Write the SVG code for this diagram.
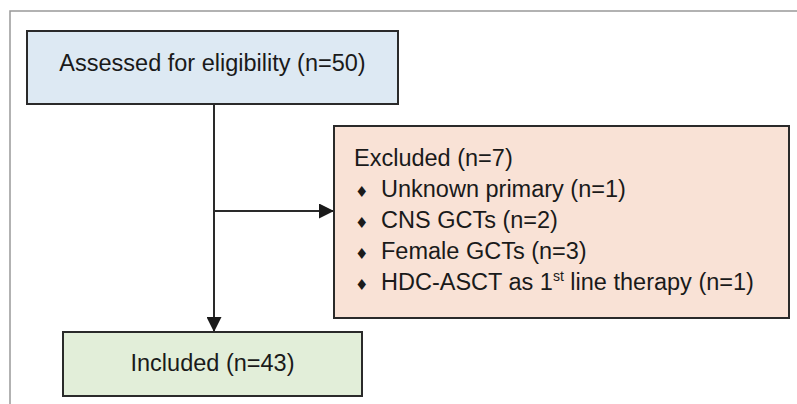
<svg xmlns="http://www.w3.org/2000/svg" width="797" height="404" viewBox="0 0 797 404">
<style>
.box{stroke:#2a2a2a;stroke-width:2}
.t{font-family:"Liberation Sans",Arial,sans-serif;fill:#1a1a1a;font-size:23.5px}
.b{font-family:"DejaVu Sans",sans-serif;font-size:15px;fill:#1a1a1a}
.ln{stroke:#2a2a2a;stroke-width:2;fill:none}
</style>
<defs>
<marker id="ah" markerWidth="15" markerHeight="15" refX="15" refY="7.5" orient="auto" markerUnits="userSpaceOnUse">
<path d="M0,0 L15,7.5 L0,15 Z" fill="#1a1a1a"/>
</marker>
</defs>
<rect width="797" height="404" fill="#ffffff"/>
<path d="M10,404 L10,11 L797,11" fill="none" stroke="#999999" stroke-width="1.5"/>
<g id="connectors">
<line class="ln" x1="214" y1="104" x2="214" y2="332" marker-end="url(#ah)"/>
<line class="ln" x1="214" y1="211" x2="334" y2="211" marker-end="url(#ah)"/>
</g>
<g id="assessed">
<rect class="box" x="27" y="31" width="371" height="73" fill="#dde9f3"/>
<text class="t" x="212.5" y="71" text-anchor="middle">Assessed for eligibility (n=50)</text>
</g>
<g id="excluded">
<rect class="box" x="334" y="126" width="455" height="192" fill="#f9e2d6"/>
<text class="t" x="354" y="166">Excluded (n=7)</text>
<text class="b" x="355" y="197">♦</text>
<text class="t" x="381" y="197">Unknown primary (n=1)</text>
<text class="b" x="355" y="228">♦</text>
<text class="t" x="381" y="228">CNS GCTs (n=2)</text>
<text class="b" x="355" y="259">♦</text>
<text class="t" x="381" y="259">Female GCTs (n=3)</text>
<text class="b" x="355" y="290">♦</text>
<text class="t" x="381" y="290">HDC-ASCT as 1<tspan font-size="14" dy="-9">st</tspan><tspan dy="9"> line therapy (n=1)</tspan></text>
</g>
<g id="included">
<rect class="box" x="63" y="332" width="299" height="64" fill="#e2eed9"/>
<text class="t" x="212.5" y="371" text-anchor="middle">Included (n=43)</text>
</g>
</svg>
